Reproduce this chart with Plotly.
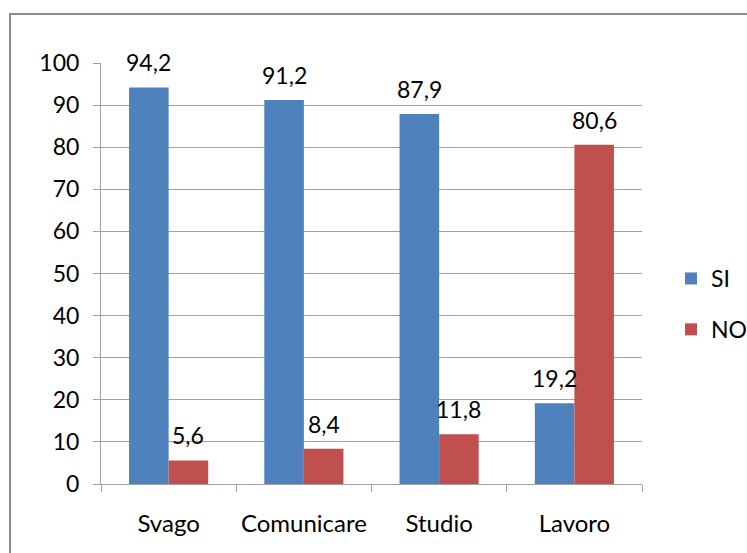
import plotly.graph_objects as go

# Survey results: share of respondents (%) by purpose of use
categories = ["Svago", "Comunicare", "Studio", "Lavoro"]
si_values = [94.2, 91.2, 87.9, 19.2]
no_values = [5.6, 8.4, 11.8, 80.6]
y_ticks = [0, 10, 20, 30, 40, 50, 60, 70, 80, 90, 100]

FONT = "Lato"
FSIZE = 23
GRID = "#a0a0a0"
BARGAP = 0.415

W, H = 747, 553
L, R, T, B = 101, 105, 63, 69
pw, ph = W - L - R, H - T - B


def px_x(p):
    return (p - L) / pw


def px_y(p):
    return (H - B - p) / ph


fig = go.Figure()
series = [("SI", si_values, "#4F81BD"), ("NO", no_values, "#C0504D")]
for name, vals, color in series:
    fig.add_trace(go.Bar(
        name=name, x=categories, y=vals,
        marker=dict(color=color, line=dict(width=0)),
        legendgroup=name, hoverinfo="x+y",
    ))

# value labels above each bar (category axis, offset to the bar centre)
half = (1 - BARGAP) / 4
for k, (name, vals, color) in enumerate(series):
    off = -half if k == 0 else half
    for i, v in enumerate(vals):
        fig.add_annotation(
            x=i + off, y=v, xref="x", yref="y",
            text=f"{v:.1f}".replace(".", ","), showarrow=False,
            yanchor="bottom", xanchor="center", yshift=9,
            font=dict(family=FONT, size=FSIZE, color="#000000"),
        )

# chart frame, extending past the bottom and right edges of the page
fig.add_shape(
    type="rect", xref="paper", yref="paper",
    x0=px_x(10), x1=px_x(W + 20), y0=px_y(H + 20), y1=px_y(14),
    line=dict(color="#8c8c8c", width=2), fillcolor="rgba(0,0,0,0)", layer="below",
)

fig.update_layout(
    width=W, height=H,
    margin=dict(l=L, r=R, t=T, b=B, autoexpand=False),
    paper_bgcolor="white", plot_bgcolor="white",
    separators=",.",
    barmode="group", bargap=BARGAP, bargroupgap=0,
    font=dict(family=FONT, size=FSIZE, color="#000000"),
    legend=dict(
        x=px_x(671), y=px_y(304), xanchor="left", yanchor="middle",
        font=dict(family=FONT, size=FSIZE), tracegroupgap=18,
        traceorder="grouped", itemwidth=30, bgcolor="rgba(0,0,0,0)",
    ),
    showlegend=True,
)
fig.update_xaxes(
    type="category", range=[-0.5, 3.5], showgrid=False, showline=True,
    linecolor=GRID, linewidth=1,
    ticks="outside", tickson="boundaries", ticklen=7, tickcolor=GRID,
    tickfont=dict(family=FONT, size=24), ticklabelstandoff=18,
)
fig.update_yaxes(
    range=[0, 100], tickvals=y_ticks, showgrid=True, gridcolor=GRID, gridwidth=1,
    showline=True, linecolor=GRID, linewidth=1, zeroline=False,
    ticks="outside", ticklen=7, tickcolor=GRID,
    tickfont=dict(family=FONT, size=FSIZE), ticklabelstandoff=9,
)

fig.write_html("out.html")
